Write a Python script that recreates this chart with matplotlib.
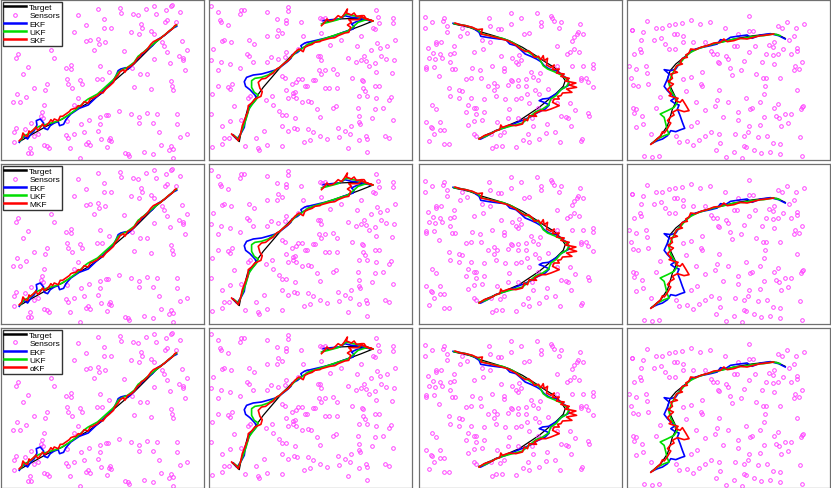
import numpy as np
import matplotlib
matplotlib.use('Agg')
import matplotlib.pyplot as plt

plt.rcParams['font.family'] = ['Liberation Sans', 'DejaVu Sans']

# third filter per row
row_filters = ['SKF', 'MKF', '\u03b1KF']

# ---- column 1 ----
sensors1 = [(513,18),(461,20),(436,30),(357,28),(292,30),(230,48),(362,42),(398,44),(413,48),(466,44),
            (496,34),(537,38),(510,22),(500,62),(492,70),(526,70),(254,78),(310,60),(422,74),(424,86),
            (310,86),(330,86),(218,98),(392,100),(450,96),(460,104),(414,106),(545,126),(559,152),(484,128),
            (489,142),(498,160),(534,172),(546,176),(548,182),(508,192),(552,212),(266,124),(254,126),(290,120),
            (314,128),(294,136),(278,154),(370,156),(460,180),(150,154),(158,178),(46,176),(52,164),(80,204),
            (67,224),(194,206),(210,198),(210,210),(298,202),(324,218),(394,206),(438,224),(417,224),(288,240),
            (304,240),(198,240),(236,244),(201,256),(212,268),(244,256),(137,256),(133,272),(100,268),(400,264),
            (450,270),(512,246),(515,262),(516,272),(48,286),(76,294),(36,310),(58,310),(232,298),(218,318),
            (123,340),(127,356),(120,352),(130,318),(198,366),(240,376),(316,348),(322,348),(296,354),(354,336),
            (392,344),(416,354),(440,342),(470,346),(530,344),(296,374),(264,362),(414,372),(458,372),(530,374),
            (292,396),(250,400),(196,408),(218,406),(200,416),(46,386),(40,398),(72,390),(90,372),(110,404),
            (560,404),(476,398),(538,414),(328,418),(326,424),(332,426),(300,420),(262,430),(256,434),(268,438),
            (130,438),(138,442),(144,446),(206,446),(86,448),(90,462),(320,444),(374,462),(382,466),(386,470),
            (430,460),(458,464),(482,438),(512,440),(504,454),(518,450),(518,478),(238,476),(38,428),(100,410),
            (82,462)]
target1 = [(55,428),(95,405),(140,380),(185,360),(230,330),(265,310),(300,285),(335,250),(370,220),(400,195),
           (430,165),(465,130),(500,102),(527,80)]
ekf1 = [(55,430),(68,412),(80,420),(90,405),(100,395),(108,378),(106,365),(118,360),(128,372),(130,388),
        (140,392),(148,380),(160,372),(172,368),(176,380),(188,376),(195,362),(210,345),(235,328),(262,318),
        (285,296),(300,283),(320,262),(335,248),(345,232),(352,215),(360,210),(375,206),(382,210),(395,198),
        (410,180),(420,170),(438,152),(455,140),(470,122),(490,110),(505,98),(515,88),(528,82)]
ukf1 = [(58,425),(70,410),(82,405),(90,400),(100,390),(115,382),(130,378),(150,372),(165,368),(180,362),
        (200,350),(225,332),(255,305),(262,300),(290,285),(320,258),(340,240),(352,220),(365,212),(380,205),
        (400,190),(412,172),(425,162),(445,145),(470,125),(495,105),(515,88),(528,78)]
red1 = [(55,425),(62,418),(66,402),(72,410),(80,412),(84,396),(88,400),(98,392),(105,384),(110,394),
        (115,390),(125,375),(130,382),(135,380),(145,370),(150,362),(155,368),(160,360),(172,365),(178,352),
        (185,352),(195,345),(205,338),(210,332),(215,330),(225,328),(232,320),(240,322),(250,308),(262,312),
        (268,300),(275,298),(290,290),(300,280),(306,282),(315,270),(325,262),(338,250),(342,240),(352,228),
        (358,218),(368,212),(372,220),(380,206),(392,200),(402,190),(410,178),(418,172),(422,164),(430,160),
        (440,150),(450,136),(458,128),(470,122),(480,118),(486,112),(492,108),(505,96),(515,90),(522,80),
        (526,78)]

# ---- column 2 ----
sensors2 = [(18,22),(40,40),(44,62),(48,70),(68,78),(108,34),(116,34),(106,46),(187,38),(250,24),
            (248,36),(215,60),(243,62),(242,72),(288,68),(345,56),(352,60),(360,58),(515,32),(520,54),
            (566,56),(565,72),(524,72),(505,86),(512,90),(218,92),(232,102),(187,112),(215,112),(293,110),
            (350,102),(408,124),(470,110),(571,122),(517,132),(458,142),(525,146),(548,142),(500,152),(52,126),
            (58,124),(78,128),(132,122),(146,134),(24,150),(125,164),(133,172),(242,158),(280,150),(305,132),
            (375,138),(345,170),(340,172),(350,184),(430,178),(454,188),(468,184),(484,186),(478,170),(492,200),
            (511,192),(528,170),(568,182),(545,180),(18,184),(48,190),(74,196),(145,190),(186,188),(198,174),
            (218,180),(240,174),(106,208),(40,212),(342,212),(362,212),(386,210),(396,224),(350,226),(513,218),
            (563,222),(230,232),(240,236),(280,240),(290,240),(274,248),(260,256),(326,242),(332,242),(442,236),
            (473,244),(476,246),(299,260),(306,262),(360,266),(372,266),(398,268),(474,266),(510,262),(522,262),
            (40,262),(68,264),(74,270),(80,256),(242,274),(263,282),(271,280),(264,292),(274,298),(248,298),
            (182,302),(200,290),(22,286),(514,298),(462,290),(486,290),(481,276),(558,294),(553,304),(290,310),
            (308,306),(318,308),(130,296),(136,290),(204,318),(88,322),(222,336),(232,348),(243,348),(270,356),
            (336,330),(386,326),(394,322),(460,326),(512,330),(534,326),(345,354),(462,352),(502,356),(18,346),
            (52,380),(76,366),(108,362),(232,380),(266,386),(276,390),(324,398),(308,390),(248,396),(176,396),
            (400,386),(404,414),(420,396),(438,380),(464,370),(466,374),(565,364),(540,410),(484,410),(486,420),
            (436,406),(554,416),(464,422),(368,420),(346,410),(316,422),(296,430),(430,446),(488,460),(230,440),
            (186,438),(158,446),(162,454),(120,440),(50,436),(20,444),(72,416),(58,418),(154,416)]
target2 = [(82,408),(103,428),(110,392),(115,380),(128,330),(150,300),(175,265),(205,230),(235,195),(262,168),
           (290,148),(330,130),(380,112),(430,95),(470,80),(505,66),(450,58),(400,60),(355,72)]
ekf2 = [(85,408),(95,420),(100,415),(110,400),(118,385),(120,370),(125,350),(132,330),(138,318),(148,308),
        (155,298),(150,288),(135,272),(122,262),(118,248),(125,235),(145,228),(170,225),(195,218),(215,212),
        (232,200),(245,190),(258,178),(262,168),(278,160),(292,148),(288,140),(300,132),(330,125),(360,118),
        (390,110),(415,100),(430,95),(445,90),(448,82),(440,75),(455,68),(480,62),(500,66),(470,58),
        (440,55),(420,50),(405,60),(380,62),(355,65)]
ukf2 = [(88,410),(100,420),(108,402),(115,385),(125,355),(132,330),(145,312),(155,300),(160,288),(148,280),
        (140,265),(140,245),(150,238),(170,235),(190,228),(205,218),(220,208),(240,192),(258,176),(275,158),
        (290,150),(310,135),(340,125),(380,112),(410,102),(425,98),(440,88),(460,70),(485,62),(505,66),
        (470,55),(445,50),(425,45),(400,62),(370,70),(350,75)]
red2 = [(80,405),(92,415),(100,425),(108,400),(112,380),(120,360),(124,348),(128,340),(130,320),(140,312),
        (150,300),(168,292),(172,278),(165,268),(160,250),(170,240),(182,238),(195,228),(205,222),(215,210),
        (225,205),(232,198),(242,190),(250,185),(260,172),(270,160),(282,150),(295,158),(300,145),(310,140),
        (322,136),(330,130),(345,128),(350,125),(375,118),(390,116),(400,110),(420,102),(432,100),(438,85),
        (428,78),(440,70),(432,62),(460,62),(470,54),(480,58),(505,66),(485,60),(478,50),(470,50),
        (455,52),(448,42),(440,48),(425,42),(428,30),(418,46),(410,56),(400,50),(392,58),(385,64),
        (375,66),(366,60),(358,72),(350,80)]

# ---- column 3 ----
sensors3 = [(38,54),(38,88),(58,70),(95,56),(92,66),(104,80),(104,100),(150,88),(165,102),(144,110),
            (230,56),(232,80),(296,42),(296,76),(326,58),(372,42),(384,70),(386,80),(415,50),(418,56),
            (425,66),(444,68),(438,86),(502,74),(497,98),(510,104),(494,104),(266,90),(258,90),(335,104),
            (348,102),(208,122),(232,130),(485,114),(478,126),(70,130),(70,136),(86,130),(126,140),(48,146),
            (62,162),(84,164),(112,166),(125,162),(185,158),(212,150),(265,172),(300,178),(320,168),(326,182),
            (312,190),(463,166),(471,160),(485,150),(499,158),(432,140),(478,200),(512,200),(542,194),(540,206),
            (50,176),(68,180),(88,178),(112,188),(120,210),(40,204),(64,204),(80,230),(42,210),(128,210),
            (180,208),(204,214),(240,200),(276,208),(276,216),(318,196),(356,220),(382,222),(434,200),(505,238),
            (504,242),(520,236),(525,250),(541,264),(160,240),(176,236),(206,238),(246,252),(254,262),(295,244),
            (298,246),(318,244),(340,240),(360,234),(288,258),(318,262),(340,262),(376,244),(228,262),(110,266),
            (140,272),(150,276),(244,272),(368,272),(406,270),(112,290),(140,298),(176,296),(216,300),(250,290),
            (278,300),(310,300),(325,298),(344,286),(378,286),(472,312),(414,296),(432,312),(60,318),(72,330),
            (166,318),(186,328),(190,326),(216,338),(160,340),(190,344),(290,330),(348,312),(376,326),(378,332),
            (446,352),(460,354),(466,358),(526,342),(529,352),(486,332),(42,368),(56,384),(58,388),(84,370),
            (94,392),(82,394),(66,404),(166,378),(184,366),(210,364),(286,358),(254,368),(316,358),(358,358),
            (362,382),(402,376),(428,400),(474,380),(186,404),(190,412),(236,404),(262,408),(274,400),(346,406),
            (400,402),(508,420),(506,426),(442,428),(50,426),(96,436),(110,434),(250,440),(238,448),(270,440),
            (310,444),(330,424),(348,428),(380,420)]
target3 = [(125,75),(170,85),(210,100),(250,112),(290,125),(330,145),(370,170),(400,190),(425,205),(445,225),
           (458,245),(452,262),(432,282),(410,300),(380,325),(350,345),(320,365),(285,380),(250,395),(220,408),
           (200,420)]
ekf3 = [(122,73),(150,78),(180,86),(200,100),(205,112),(230,116),(260,120),(280,122),(292,135),(310,140),
        (322,150),(338,165),(355,172),(372,180),(385,188),(395,200),(410,210),(430,215),(445,225),(465,240),
        (470,258),(448,270),(430,285),(408,298),(390,300),(380,305),(395,310),(410,318),(398,330),(380,338),
        (360,350),(340,360),(310,372),(280,385),(250,395),(225,410),(205,420)]
ukf3 = [(125,74),(160,80),(195,92),(210,105),(240,112),(270,118),(300,130),(318,142),(330,152),(345,158),
        (360,168),(380,178),(392,200),(405,210),(425,218),(450,230),(470,248),(462,262),(445,272),(430,290),
        (415,300),(408,318),(390,330),(370,338),(350,355),(330,372),(300,380),(270,388),(245,398),(220,412),
        (200,418)]
red3 = [(128,72),(145,78),(160,80),(180,85),(195,92),(210,90),(205,105),(230,110),(260,118),(285,125),
        (310,138),(325,150),(340,158),(348,155),(360,165),(365,175),(378,172),(385,182),(392,170),(395,185),
        (405,178),(402,198),(415,205),(425,198),(420,212),(440,210),(432,222),(455,225),(445,232),(470,238),
        (458,246),(490,252),(470,258),(492,265),(462,270),(478,280),(450,282),(445,290),(435,292),(440,300),
        (425,300),(420,310),(440,320),(415,330),(400,335),(385,335),(365,345),(372,352),(350,350),(345,365),
        (335,360),(330,375),(310,380),(290,378),(270,385),(265,378),(262,392),(250,395),(240,402),(230,405),
        (215,410),(200,420)]

# ---- column 4 ----
sensors4 = [(32,92),(34,92),(78,66),(104,86),(124,86),(146,78),(162,76),(183,72),(212,62),(237,74),
            (268,70),(312,88),(385,52),(500,68),(553,74),(473,80),(486,86),(528,86),(354,104),(385,96),
            (398,96),(522,110),(505,124),(66,100),(60,122),(98,124),(120,116),(160,106),(170,106),(188,110),
            (132,134),(186,130),(216,130),(252,130),(342,140),(350,140),(405,142),(446,138),(461,130),(458,144),
            (488,150),(530,148),(532,156),(56,150),(60,158),(40,166),(146,150),(162,150),(276,166),(270,156),
            (290,164),(316,172),(324,180),(385,160),(438,164),(458,168),(474,164),(512,164),(370,186),(426,190),
            (460,194),(546,190),(292,188),(294,192),(330,206),(362,212),(24,202),(44,210),(74,202),(78,222),
            (243,220),(212,234),(186,240),(336,228),(406,226),(428,238),(436,236),(480,236),(520,214),(524,200),
            (536,210),(30,236),(36,258),(50,262),(80,256),(242,256),(244,260),(294,274),(434,262),(530,274),
            (118,294),(196,276),(282,320),(288,302),(324,308),(376,298),(420,310),(432,286),(474,314),(548,320),
            (542,330),(546,324),(36,328),(40,342),(46,330),(62,352),(104,328),(226,308),(252,332),(352,338),
            (390,330),(396,326),(430,354),(460,326),(466,350),(476,356),(494,346),(512,346),(230,370),(66,374),
            (46,384),(210,380),(306,354),(352,364),(386,380),(420,378),(482,382),(502,372),(90,404),(166,412),
            (176,430),(200,426),(218,438),(236,424),(252,410),(270,398),(296,406),(344,404),(372,410),(384,400),
            (414,414),(440,412),(458,432),(480,436),(540,414),(298,432),(286,452),(342,458),(372,440),(376,444),
            (402,454),(422,462),(450,460),(478,464),(546,470),(316,474),(364,476),(70,472),(94,474),(114,472)]
target4 = [(90,435),(120,410),(140,380),(148,355),(155,330),(165,310),(162,290),(150,265),(140,240),(148,215),
           (165,195),(190,175),(215,155),(250,142),(300,130),(350,118),(400,110),(440,106),(470,106),(495,118)]
ekf4 = [(495,120),(475,110),(450,104),(420,108),(395,118),(380,108),(350,112),(330,115),(315,125),(300,122),
        (290,135),(270,140),(245,145),(225,150),(210,158),(195,172),(185,180),(175,195),(165,210),(150,215),
        (130,212),(145,225),(140,240),(130,262),(140,275),(150,285),(165,295),(150,305),(165,315),(175,318),
        (170,330),(178,350),(185,370),(192,388),(180,392),(165,398),(150,395),(140,410),(125,420),(110,425),
        (95,432)]
ukf4 = [(480,110),(460,105),(430,110),(400,112),(370,118),(340,120),(310,128),(290,132),(260,140),(230,150),
        (210,160),(195,172),(180,190),(165,205),(160,215),(150,235),(145,255),(150,275),(160,290),(170,310),
        (160,325),(140,335),(118,345),(130,355),(135,375),(140,395),(145,405),(130,410),(110,420),(95,432)]
red4 = [(460,105),(440,108),(420,110),(400,115),(380,120),(360,118),(340,125),(320,128),(310,120),(300,130),
        (280,132),(260,140),(240,145),(225,152),(210,150),(205,162),(195,168),(200,175),(185,178),(178,190),
        (185,195),(168,200),(160,215),(170,220),(150,225),(155,238),(142,248),(158,255),(150,262),(140,272),
        (152,285),(145,290),(160,295),(172,298),(165,305),(178,310),(185,302),(195,318),(205,335),(190,338),
        (170,332),(155,340),(160,348),(148,355),(140,365),(150,372),(145,380),(138,392),(130,402),(125,398),
        (118,412),(108,420),(98,430),(90,436)]

columns = [
    (sensors1, target1, ekf1, ukf1, red1, (0, 610)),
    (sensors2, target2, ekf2, ukf2, red2, (12, 622)),
    (sensors3, target3, ekf3, ukf3, red3, (20, 628)),
    (sensors4, target4, ekf4, ukf4, red4, (18, 630)),
]

W, H = 831, 489
fig = plt.figure(figsize=(W / 100, H / 100), dpi=100)

col_left = [1, 209, 419, 627]
col_w = 203
row_top = [1, 165, 329]
row_h = 160

for r in range(3):
    for c in range(4):
        sens, tgt, ekf, ukf, red, xl = columns[c]
        ax = fig.add_axes([col_left[c] / W, 1 - (row_top[r] + row_h) / H, col_w / W, row_h / H])
        s = np.array(sens)
        t = np.array(tgt)
        e = np.array(ekf)
        u = np.array(ukf)
        k = np.array(red)
        ax.plot(t[:, 0], t[:, 1], color='black', lw=0.9, label='Target')
        ax.plot(s[:, 0], s[:, 1], 'o', ms=2.6, mfc='none', mec='#ff44ff', mew=0.7, label='Sensors')
        ax.plot(e[:, 0], e[:, 1], color='#0000ff', lw=1.2, label='EKF')
        ax.plot(u[:, 0], u[:, 1], color='#00dd00', lw=1.2, label='UKF')
        ax.plot(k[:, 0], k[:, 1], color='#ff0000', lw=1.2, label=row_filters[r])
        ax.set_xlim(*xl)
        ax.set_ylim(483, 3)
        ax.set_xticks([])
        ax.set_yticks([])
        for sp in ax.spines.values():
            sp.set_color('#707070')
            sp.set_linewidth(0.9)
        if c == 0:
            leg = ax.legend(loc='upper left', fontsize=6.0, frameon=True, fancybox=False,
                            borderpad=0.2, labelspacing=0.05, handlelength=2.6,
                            handletextpad=0.4, borderaxespad=0.2)
            leg.get_frame().set_edgecolor('black')
            leg.get_frame().set_linewidth(1.0)
            for ln in leg.get_lines():
                ln.set_linewidth(1.8)

fig.savefig('out.png', dpi=100)
